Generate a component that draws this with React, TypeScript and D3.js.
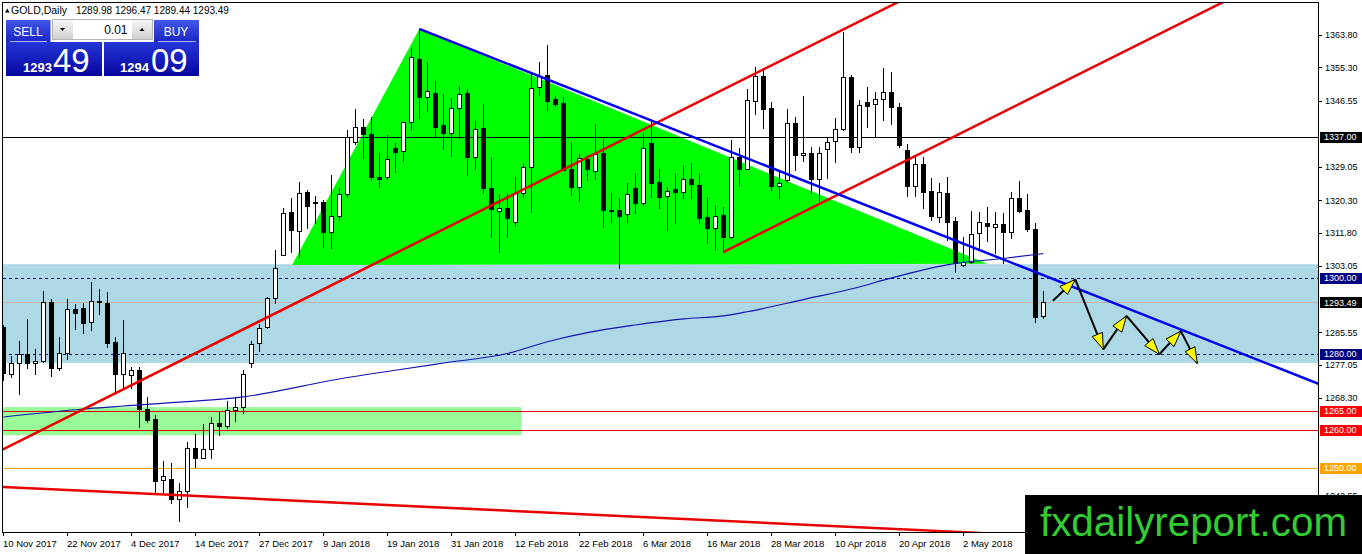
import React from "react"
import * as d3 from "d3"

// GOLD daily candles, 10 Nov 2017 .. 16 May 2018 (one entry per trading day)
const opens = [
  1287.0, 1274.6, 1277.5, 1279.9, 1277.5, 1278.0, 1293.5, 1276.2, 1280.1, 1291.7,
  1291.9, 1288.3, 1293.8, 1293.3, 1283.0, 1274.6, 1274.3, 1275.6, 1265.4, 1262.7,
  1246.7, 1246.9, 1241.7, 1243.8, 1255.1, 1252.5, 1254.9, 1261.7, 1260.9, 1265.1,
  1265.9, 1277.5, 1282.7, 1287.0, 1294.6, 1305.9, 1317.2, 1312.2, 1322.5, 1319.9,
  1319.9, 1312.0, 1316.2, 1321.9, 1335.6, 1339.6, 1337.7, 1326.4, 1326.4, 1334.1,
  1333.3, 1340.9, 1357.5, 1347.5, 1348.5, 1340.1, 1338.0, 1344.6, 1348.5, 1331.7,
  1339.3, 1323.5, 1317.5, 1318.3, 1314.6, 1322.2, 1329.1, 1350.1, 1353.3, 1347.0,
  1345.9, 1328.5, 1323.8, 1331.2, 1328.0, 1332.7, 1317.7, 1317.7, 1316.7, 1323.5,
  1319.6, 1335.4, 1325.1, 1321.4, 1323.3, 1322.5, 1325.9, 1324.3, 1315.9, 1313.0,
  1316.4, 1310.6, 1331.7, 1328.5, 1346.4, 1353.0, 1344.6, 1324.1, 1325.6, 1340.6,
  1332.2, 1332.7, 1325.9, 1333.8, 1335.9, 1339.1, 1352.7, 1334.3, 1346.2, 1345.6,
  1347.0, 1348.8, 1344.9, 1333.5, 1324.1, 1329.9, 1322.7, 1315.9, 1322.2, 1314.9,
  1303.3, 1304.1, 1311.7, 1314.3, 1313.3, 1314.1, 1312.0, 1320.9, 1317.7, 1312.7,
  1289.98,
]
const highs = [
  1287.5, 1279.3, 1283.3, 1289.1, 1281.2, 1296.4, 1294.3, 1284.3, 1294.3, 1293.0,
  1293.3, 1298.8, 1297.0, 1296.2, 1284.3, 1288.8, 1276.4, 1276.4, 1268.5, 1263.8,
  1251.7, 1251.2, 1245.9, 1256.7, 1258.8, 1261.4, 1263.3, 1264.9, 1267.5, 1268.5,
  1275.6, 1283.3, 1287.7, 1294.9, 1307.2, 1318.3, 1320.9, 1325.1, 1323.0, 1321.4,
  1320.4, 1327.0, 1323.5, 1338.8, 1344.3, 1341.7, 1342.2, 1332.7, 1337.5, 1335.4,
  1340.9, 1360.4, 1365.4, 1356.7, 1351.7, 1348.3, 1347.2, 1350.4, 1349.6, 1341.2,
  1345.6, 1331.7, 1321.7, 1322.2, 1326.4, 1330.1, 1353.8, 1356.7, 1361.2, 1347.7,
  1347.5, 1335.6, 1332.5, 1332.2, 1340.4, 1336.4, 1322.2, 1320.9, 1324.9, 1327.5,
  1338.0, 1340.9, 1328.5, 1323.8, 1327.5, 1329.6, 1330.1, 1327.5, 1321.2, 1319.1,
  1318.5, 1336.2, 1334.1, 1349.6, 1355.4, 1355.1, 1346.2, 1327.7, 1344.3, 1342.2,
  1347.7, 1334.3, 1334.3, 1336.7, 1341.9, 1364.6, 1353.3, 1346.7, 1350.1, 1348.8,
  1355.1, 1354.1, 1345.9, 1335.1, 1331.7, 1331.7, 1326.2, 1324.9, 1326.4, 1315.9,
  1310.6, 1317.5, 1317.2, 1318.5, 1317.2, 1316.9, 1322.5, 1325.4, 1321.9, 1314.3,
  1296.47,
]
const lows = [
  1273.0, 1273.8, 1269.3, 1276.2, 1274.6, 1277.7, 1274.1, 1275.6, 1278.5, 1286.4,
  1285.4, 1286.2, 1290.4, 1281.7, 1269.6, 1271.2, 1270.9, 1260.6, 1261.9, 1243.5,
  1243.5, 1240.6, 1235.9, 1239.6, 1250.1, 1252.5, 1252.5, 1258.5, 1260.4, 1262.2,
  1264.3, 1276.4, 1280.6, 1286.7, 1293.3, 1305.9, 1306.7, 1305.4, 1313.0, 1314.3,
  1308.0, 1307.7, 1315.1, 1321.2, 1335.1, 1331.4, 1325.6, 1323.8, 1325.9, 1327.7,
  1330.6, 1338.8, 1341.9, 1343.8, 1337.0, 1333.8, 1332.0, 1336.7, 1327.0, 1328.5,
  1322.2, 1310.6, 1306.7, 1310.6, 1313.5, 1321.2, 1317.2, 1348.0, 1344.1, 1345.1,
  1328.3, 1321.7, 1320.1, 1325.6, 1325.9, 1313.3, 1314.6, 1302.5, 1314.6, 1317.0,
  1319.1, 1321.2, 1318.3, 1312.5, 1314.3, 1320.9, 1320.9, 1314.3, 1309.1, 1307.2,
  1306.7, 1310.4, 1324.1, 1328.5, 1343.0, 1339.3, 1323.0, 1320.9, 1325.1, 1328.3,
  1330.6, 1322.2, 1319.9, 1326.2, 1330.4, 1338.8, 1333.0, 1333.0, 1339.6, 1337.0,
  1341.4, 1340.4, 1334.3, 1321.4, 1321.4, 1318.3, 1315.1, 1314.6, 1309.9, 1301.4,
  1303.0, 1303.8, 1307.2, 1309.6, 1306.4, 1303.8, 1310.4, 1317.2, 1312.2, 1288.3,
  1289.44,
]
const closes = [
  1274.8, 1277.5, 1279.9, 1277.5, 1278.0, 1293.5, 1276.2, 1280.1, 1291.7, 1290.6,
  1288.0, 1293.8, 1293.5, 1282.7, 1274.6, 1280.1, 1275.6, 1265.4, 1262.5, 1246.4,
  1247.7, 1241.7, 1243.8, 1255.1, 1252.5, 1254.9, 1261.7, 1260.9, 1265.1, 1265.9,
  1274.6, 1282.5, 1286.7, 1294.6, 1302.5, 1317.0, 1312.5, 1322.2, 1318.8, 1319.6,
  1312.0, 1316.2, 1321.9, 1337.0, 1339.6, 1337.7, 1326.4, 1325.9, 1331.2, 1333.0,
  1340.9, 1358.0, 1347.5, 1349.1, 1339.6, 1338.0, 1344.6, 1348.3, 1331.7, 1339.1,
  1323.5, 1318.0, 1318.3, 1315.6, 1322.2, 1329.1, 1349.9, 1353.0, 1346.4, 1345.6,
  1328.3, 1323.8, 1331.4, 1328.5, 1332.5, 1317.7, 1317.5, 1316.2, 1321.9, 1319.6,
  1334.1, 1324.9, 1321.2, 1322.7, 1322.5, 1325.9, 1324.6, 1315.6, 1313.0, 1316.2,
  1310.6, 1331.7, 1328.5, 1346.7, 1353.0, 1344.3, 1324.1, 1324.9, 1340.6, 1332.2,
  1332.7, 1325.9, 1332.7, 1335.6, 1339.1, 1352.7, 1334.3, 1345.4, 1345.1, 1347.0,
  1348.8, 1344.9, 1334.9, 1324.1, 1329.9, 1322.5, 1316.2, 1322.5, 1314.6, 1303.8,
  1304.1, 1311.4, 1314.6, 1313.5, 1314.1, 1312.0, 1320.9, 1317.5, 1312.7, 1289.6,
  1293.49,
]

// moving average, read at a few bars
const maBars = [0, 10, 22, 30, 42, 49, 55, 63, 68, 73, 79, 85, 90, 93, 100, 107, 110, 114, 119, 125, 130]
const maValues = [
  1263.3, 1265.4, 1267.2, 1268.6, 1273.3, 1275.6, 1277.5, 1280.0, 1283.1, 1285.5, 1287.5,
  1289.1, 1289.9, 1291.0, 1294.2, 1297.5, 1299.3, 1301.5, 1303.7, 1305.0, 1306.3,
]

// axes (labels hidden behind the level boxes are left out)
const priceTicks = [1363.8, 1355.3, 1346.55, 1329.05, 1320.3, 1311.8, 1303.05, 1285.55, 1277.05, 1268.3, 1242.55]
const dateBars = [0, 8, 16, 24, 32, 40, 48, 56, 64, 72, 80, 88, 96, 104, 112, 120]
const dateLabels = [
  "10 Nov 2017", "22 Nov 2017", "4 Dec 2017", "14 Dec 2017", "27 Dec 2017", "9 Jan 2018",
  "19 Jan 2018", "31 Jan 2018", "12 Feb 2018", "22 Feb 2018", "6 Mar 2018", "16 Mar 2018",
  "28 Mar 2018", "10 Apr 2018", "20 Apr 2018", "2 May 2018",
]

// horizontal levels
const levelPrices = [1337.0, 1300.0, 1293.49, 1280.0, 1265.0, 1260.0, 1250.0]
const levelStyles = [
  { line: "#000000", dash: "", box: "#000000" },
  { line: "#000080", dash: "3,3", box: "#000080" },
  { line: "#c2b4a6", dash: "", box: "#000000" },
  { line: "#000080", dash: "3,3", box: "#000080" },
  { line: "#e00000", dash: "", box: "#ff0000" },
  { line: "#e00000", dash: "", box: "#ff0000" },
  { line: "#f0a400", dash: "", box: "#ffa500" },
]

// zones and drawings
const blueZone = [1303.5, 1277.5]
const greenZone = [1265.9, 1258.5]
const greenZoneEndBar = 64.8
const triangleBars = [52, 36.1, 123]
const trianglePrices = [1365.4, 1303.3, 1303.6]
const blueTrendBars = [52, 130]
const blueTrendPrices = [1365.4, 1300.6]
const redUpperBars = [0, 100]
const redUpperPrices = [1254.8, 1360.0]
const redChannelBars = [90, 130]
const redChannelPrices = [1306.7, 1348.8]
const redLowerBars = [0, 120]
const redLowerPrices = [1244.9, 1233.0]
const pathBars = [131.2, 134, 137.5, 140.4, 144.5, 147.2, 149.25]
const pathPrices = [1293.9, 1299.5, 1281.1, 1289.9, 1279.8, 1285.9, 1277.4]

const W = 1362
const H = 554
const plot = { left: 3, right: 1318, top: 3, bottom: 532 }
const font = "'Liberation Sans', Arial, sans-serif"

const x = d3.scaleLinear().domain([0, 130]).range([3.3, 1043.3])
const y = d3.scaleLinear().domain([1363.8, 1268.3]).range([35, 398])

// extend a two-point line to a bar range
function rayPath(bars: number[], prices: number[], from: number, to: number) {
  const slope = (prices[1] - prices[0]) / (bars[1] - bars[0])
  const p = (b: number) => prices[0] + slope * (b - bars[0])
  return `M${x(from)},${y(p(from))}L${x(to)},${y(p(to))}`
}

function arrowHead(x1: number, y1: number, x2: number, y2: number) {
  const dx = x2 - x1
  const dy = y2 - y1
  const len = Math.hypot(dx, dy)
  const ux = dx / len
  const uy = dy / len
  const L = 16
  const w = 5.5
  const bx = x2 - ux * L
  const by = y2 - uy * L
  return `${x2},${y2} ${bx - uy * w},${by + ux * w} ${bx + uy * w},${by - ux * w}`
}

export default function App() {
  const ma = d3
    .line<number>()
    .x((d, i) => x(maBars[i]))
    .y((d) => y(d))
    .curve(d3.curveMonotoneX)(maValues)

  const arrowPts = pathBars.map((b, i) => [x(b), y(pathPrices[i])])
  const px = (p: number) => Math.round(y(p)) + 0.5

  return (
    <svg
      width={W}
      height={H}
      style={{ position: "absolute", left: 0, top: 0, background: "#fff" }}
      fontFamily={font}
    >
      <defs>
        <clipPath id="plot">
          <rect x={plot.left} y={plot.top} width={plot.right - plot.left} height={plot.bottom - plot.top} />
        </clipPath>
        <linearGradient id="btn" x1="0" y1="0" x2="0" y2="1">
          <stop offset="0" stopColor="#4256e8" />
          <stop offset="1" stopColor="#1a26c4" />
        </linearGradient>
        <linearGradient id="pxbox" x1="0" y1="0" x2="0" y2="1">
          <stop offset="0" stopColor="#2536d6" />
          <stop offset="1" stopColor="#0505a0" />
        </linearGradient>
        <linearGradient id="gray" x1="0" y1="0" x2="0" y2="1">
          <stop offset="0" stopColor="#f6f6f6" />
          <stop offset="1" stopColor="#cfcfcf" />
        </linearGradient>
      </defs>

      <rect x={0} y={0} width={W} height={H} fill="#fff" />

      <g clipPath="url(#plot)">
        {/* background objects */}
        <rect
          x={plot.left}
          y={y(blueZone[0])}
          width={plot.right - plot.left}
          height={y(blueZone[1]) - y(blueZone[0])}
          fill="#add8e6"
        />
        <rect
          x={plot.left}
          y={y(greenZone[0])}
          width={x(greenZoneEndBar) - plot.left}
          height={y(greenZone[1]) - y(greenZone[0])}
          fill="#98fb98"
        />
        <polygon
          points={triangleBars.map((b, i) => `${x(b)},${y(trianglePrices[i])}`).join(" ")}
          fill="#00ff00"
        />

        {/* horizontal levels */}
        {levelPrices.map((p, i) => (
          <line
            key={p}
            x1={plot.left}
            x2={plot.right}
            y1={px(p)}
            y2={px(p)}
            stroke={levelStyles[i].line}
            strokeDasharray={levelStyles[i].dash || undefined}
            strokeWidth={1}
          />
        ))}

        {/* candles */}
        <g shapeRendering="crispEdges">
          {opens.map((o, i) => {
            const cx = Math.round(x(i))
            const c = closes[i]
            const yo = Math.round(y(o))
            const yc = Math.round(y(c))
            const top = Math.min(yo, yc)
            const bot = Math.max(yo, yc)
            return (
              <g key={i}>
                <line
                  x1={cx + 0.5}
                  x2={cx + 0.5}
                  y1={Math.round(y(highs[i]))}
                  y2={Math.round(y(lows[i])) + 1}
                  stroke="#000"
                />
                <rect
                  x={cx - 1.5}
                  y={top + 0.5}
                  width={4}
                  height={Math.max(bot - top, 0)}
                  fill={c >= o ? "#fff" : "#000"}
                  stroke="#000"
                />
              </g>
            )
          })}
        </g>

        {/* moving average */}
        <path d={ma ?? ""} fill="none" stroke="#1414b4" strokeWidth={1.2} />

        {/* trend lines */}
        <path d={rayPath(redUpperBars, redUpperPrices, -2, 140)} stroke="#e80000" strokeWidth={2.5} fill="none" />
        <path d={rayPath(redChannelBars, redChannelPrices, 90, 200)} stroke="#e80000" strokeWidth={2.5} fill="none" />
        <path d={rayPath(redLowerBars, redLowerPrices, -2, 200)} stroke="#e80000" strokeWidth={2.5} fill="none" />
        <path d={rayPath(blueTrendBars, blueTrendPrices, 52, 200)} stroke="#0000f0" strokeWidth={2.5} fill="none" />

        {/* projected path */}
        {arrowPts.slice(1).map((p, i) => (
          <line
            key={"l" + i}
            x1={arrowPts[i][0]}
            y1={arrowPts[i][1]}
            x2={p[0]}
            y2={p[1]}
            stroke="#000"
            strokeWidth={2}
          />
        ))}
        {arrowPts.slice(1).map((p, i) => (
          <polygon
            key={"a" + i}
            points={arrowHead(arrowPts[i][0], arrowPts[i][1], p[0], p[1])}
            fill="#ffff00"
            stroke="#000"
            strokeWidth={1}
            strokeLinejoin="round"
          />
        ))}
      </g>

      {/* frame */}
      <rect
        x={plot.left - 0.5}
        y={plot.top - 0.5}
        width={plot.right - plot.left + 1}
        height={plot.bottom - plot.top + 1}
        fill="none"
        stroke="#000"
        shapeRendering="crispEdges"
      />

      {/* price axis */}
      {priceTicks.map((p) => (
        <g key={p}>
          <line x1={plot.right + 1} x2={plot.right + 4} y1={px(p)} y2={px(p)} stroke="#000" shapeRendering="crispEdges" />
          <text x={1325} y={y(p) + 3.2} fontSize={9} fill="#000">
            {p.toFixed(2)}
          </text>
        </g>
      ))}
      {levelPrices.map((p, i) => (
        <g key={"b" + p}>
          <rect x={1320} y={Math.round(y(p)) - 5} width={42} height={11} fill={levelStyles[i].box} />
          <text x={1324} y={y(p) + 3.4} fontSize={9} fill="#fff">
            {p.toFixed(2)}
          </text>
        </g>
      ))}

      {/* time axis */}
      {dateBars.map((b, i) => (
        <g key={b}>
          <line x1={Math.round(x(b)) + 0.5} x2={Math.round(x(b)) + 0.5} y1={plot.bottom} y2={plot.bottom + 4} stroke="#000" />
          <text x={x(b) - 0.3} y={547} fontSize={9.5} fill="#000">
            {dateLabels[i]}
          </text>
        </g>
      ))}

      {/* title */}
      <polygon points="5,12.5 9.5,12.5 7.25,8.5" fill="#000" />
      <text x={11} y={14} fontSize={10.5} fill="#000">
        GOLD,Daily
      </text>
      <text x={76} y={14} fontSize={10} fill="#000">
        1289.98 1296.47 1289.44 1293.49
      </text>

      {/* one click trading panel */}
      <g>
        <rect x={6} y={20} width={44.5} height={22} fill="url(#btn)" />
        <line x1={10} x2={47} y1={41.5} y2={41.5} stroke="#aab4ff" />
        <text x={28} y={35.5} fontSize={12} fill="#fff" textAnchor="middle">
          SELL
        </text>
        <rect x={154} y={20} width={45} height={22} fill="url(#btn)" />
        <line x1={158} x2={196} y1={41.5} y2={41.5} stroke="#aab4ff" />
        <text x={176} y={35.5} fontSize={12} fill="#fff" textAnchor="middle">
          BUY
        </text>

        <rect x={52.5} y={19.5} width={100} height={20} fill="#fff" stroke="#b4b4b4" />
        <rect x={53} y={20} width={20} height={19} fill="url(#gray)" />
        <polygon points="60,28 65,28 62.5,31" fill="#000" />
        <rect x={132} y={20} width={20} height={19} fill="url(#gray)" />
        <polygon points="139.5,31 144.5,31 142,28" fill="#000" />
        <text x={127.5} y={34} fontSize={12} fill="#000" textAnchor="end">
          0.01
        </text>

        <rect x={6} y={42} width={96} height={34} fill="url(#pxbox)" />
        <text x={23} y={71.5} fontSize={13} fontWeight="bold" fill="#fff">
          1293
        </text>
        <text x={53} y={71.5} fontSize={33} fill="#fff">
          49
        </text>
        <rect x={104} y={42} width={95} height={34} fill="url(#pxbox)" />
        <text x={120} y={71.5} fontSize={13} fontWeight="bold" fill="#fff">
          1294
        </text>
        <text x={151} y={71.5} fontSize={33} fill="#fff">
          09
        </text>
      </g>

      {/* watermark */}
      <rect x={1025} y={495} width={W - 1025} height={H - 495} fill="#000" />
      <text x={1040} y={536} fontSize={40} fill="#33cc33" textLength={307} lengthAdjust="spacingAndGlyphs">
        fxdailyreport.com
      </text>
    </svg>
  )
}
